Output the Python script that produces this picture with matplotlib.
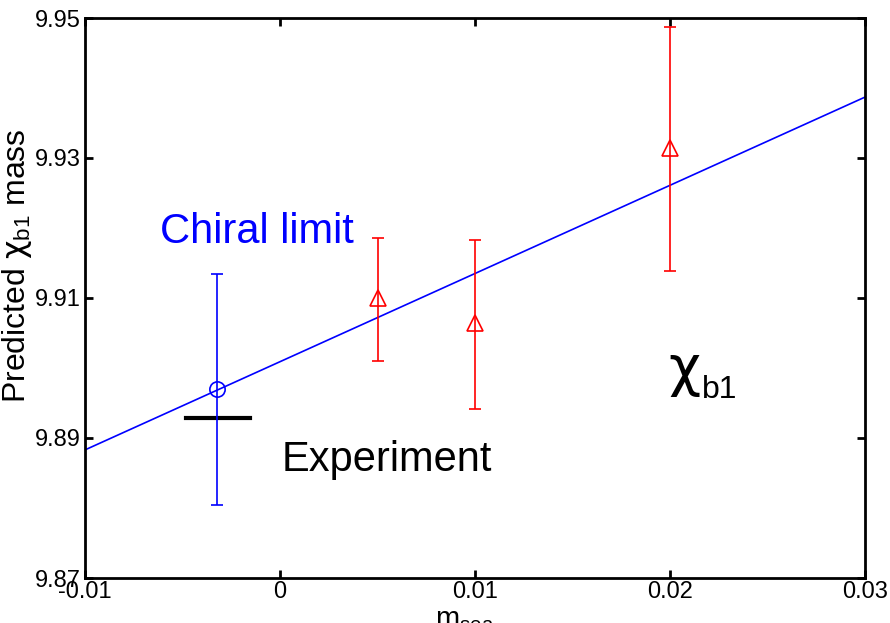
import matplotlib.pyplot as plt
import numpy as np

plt.rcParams['font.family'] = ['Liberation Sans', 'DejaVu Sans']
plt.rcParams['mathtext.fontset'] = 'custom'
plt.rcParams['mathtext.rm'] = 'Liberation Sans'
plt.rcParams['mathtext.it'] = 'Liberation Sans:italic'
plt.rcParams['mathtext.sf'] = 'DejaVu Sans'

# chiral limit point
chiral_x = [-0.00323]
chiral_y = [9.8970]
chiral_err_lo = [9.8970 - 9.8804]
chiral_err_hi = [9.9134 - 9.8970]

# lattice points
m_sea = [0.005, 0.01, 0.02]
mass = [9.9100, 9.9064, 9.9314]
mass_lo = [9.9010, 9.8941, 9.9139]
mass_hi = [9.9186, 9.9183, 9.9487]

# fit line
fit_x = [-0.01, 0.03]
fit_y = [9.8883, 9.9387]

# experiment
exp_x = [-0.00482, -0.00154]
exp_y = [9.8929, 9.8929]

fig = plt.figure(figsize=(8.9, 6.23), dpi=100)
ax = fig.add_axes([85/890, 45/623, 780/890, 560/623])

ax.plot(fit_x, fit_y, color='blue', linewidth=1.2)
ax.plot(exp_x, exp_y, color='black', linewidth=3)

ax.errorbar(chiral_x, chiral_y, yerr=[chiral_err_lo, chiral_err_hi],
            fmt='o', color='blue', mfc='none', markersize=11, mew=1.2,
            elinewidth=1.2, capsize=4, capthick=1.2)
ax.errorbar(m_sea, mass,
            yerr=[np.array(mass) - np.array(mass_lo), np.array(mass_hi) - np.array(mass)],
            fmt='^', color='red', mfc='none', markersize=11, mew=1.2,
            elinewidth=1.2, capsize=4, capthick=1.2)

ax.set_xlim(-0.01, 0.03)
ax.set_ylim(9.87, 9.95)
ax.set_xticks([-0.01, 0, 0.01, 0.02, 0.03])
ax.set_xticklabels(['-0.01', '0', '0.01', '0.02', '0.03'])
ax.set_yticks([9.87, 9.89, 9.91, 9.93, 9.95])
ax.set_yticklabels(['9.87', '9.89', '9.91', '9.93', '9.95'])
ax.tick_params(direction='in', length=6, width=2, top=True, right=True,
               labelsize=17, pad=3)
ax.tick_params(axis='x', pad=2)
for s in ax.spines.values():
    s.set_linewidth(2)

ax.text(-0.00615, 9.9179, 'Chiral limit', color='blue', fontsize=30)
ax.text(0.0001, 9.8853, 'Experiment', color='black', fontsize=30)
ax.text(0.0199, 9.8976, 'χ', color='black', fontsize=40, family='DejaVu Sans')
ax.text(0.02164, 9.8957, 'b1', color='black', fontsize=23)

fig.text(17/890, 1 - 266/623, r'Predicted $\mathsf{\chi}_{\mathrm{b1}}$ mass', rotation=90,
         fontsize=23, ha='center', va='center')
fig.text(465/890, 1 - 606/623, r'm$_{\mathrm{sea}}$', fontsize=21, ha='center', va='top')

fig.savefig('out.png', dpi=100)
